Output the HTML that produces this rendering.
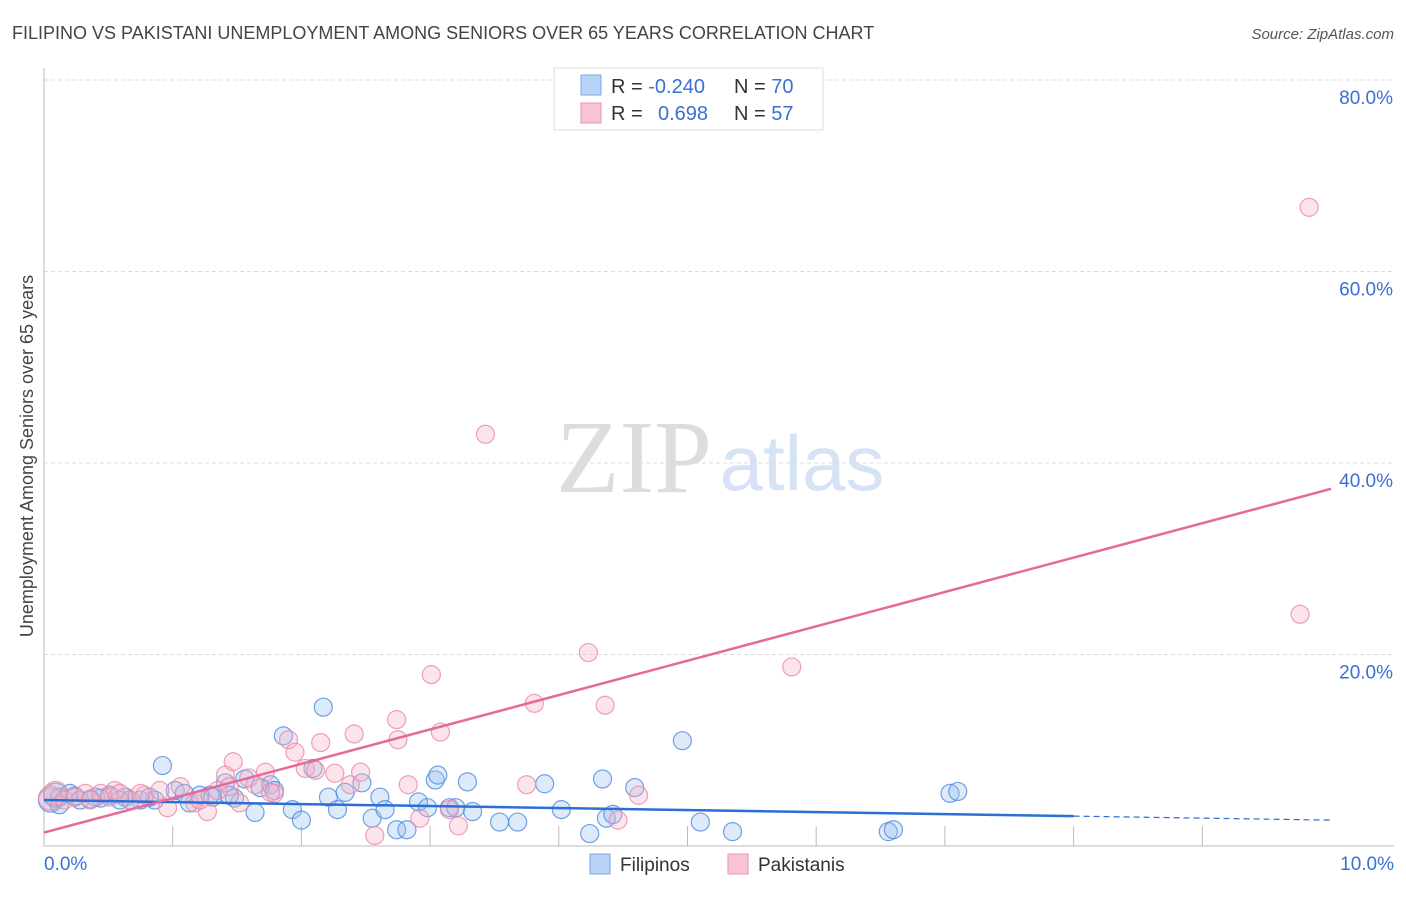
<!DOCTYPE html>
<html><head><meta charset="utf-8"><style>
body{margin:0;background:#fff;font-family:"Liberation Sans",sans-serif;}
</style></head><body>
<svg id="chart" width="1406" height="892" xmlns="http://www.w3.org/2000/svg" style="font-family:'Liberation Sans',sans-serif">
<text x="12" y="39" font-size="18" fill="#444">FILIPINO VS PAKISTANI UNEMPLOYMENT AMONG SENIORS OVER 65 YEARS CORRELATION CHART</text>
<text x="1394" y="39" font-size="15" fill="#555" text-anchor="end" font-style="italic">Source: ZipAtlas.com</text>
<g>
<text x="634" y="492" font-size="104" fill="#ddd" text-anchor="middle" font-family="Liberation Serif,serif">ZIP</text>
<text x="802" y="490" font-size="78" fill="#d6e3f5" text-anchor="middle">atlas</text>
</g>
<g id="grid"></g><g id="axes"></g><g id="pts"></g><g id="lines"></g>
<text transform="translate(33,456) rotate(-90)" font-size="18" fill="#444" text-anchor="middle">Unemployment Among Seniors over 65 years</text>
<g>
<rect x="554" y="68" width="269" height="62" fill="#fff" stroke="#ddd"/>
<rect x="581" y="75" width="20" height="20" fill="#b9d3f7" stroke="#7aa6e6"/>
<rect x="581" y="103" width="20" height="20" fill="#f9c4d3" stroke="#eb94ae"/>
<text x="611" y="93" font-size="20" fill="#333">R = <tspan fill="#3b6fd4">-0.240</tspan></text>
<text x="734" y="93" font-size="20" fill="#333">N = <tspan fill="#3b6fd4">70</tspan></text>
<text x="611" y="120" font-size="20" fill="#333">R = <tspan fill="#3b6fd4" x="658">0.698</tspan></text>
<text x="734" y="120" font-size="20" fill="#333">N = <tspan fill="#3b6fd4">57</tspan></text>
</g>
<g>
<rect x="590" y="854" width="20" height="20" fill="#b9d3f7" stroke="#7aa6e6"/>
<text x="620" y="871" font-size="19" fill="#333">Filipinos</text>
<rect x="728" y="854" width="20" height="20" fill="#f9c4d3" stroke="#eb94ae"/>
<text x="758" y="871" font-size="19" fill="#333">Pakistanis</text>
</g>
</svg>
<script>
const yTicks=[20,40,60,80];
const yTickLabels=["20.0%","40.0%","60.0%","80.0%"];
const xTickLabels=["0.0%","10.0%"];
const filX=[0.05,0.09,0.12,0.20,0.28,0.40,0.51,0.63,0.75,0.86,0.92,1.02,1.13,1.21,1.31,1.41,1.48,1.64,1.56,1.76,1.86,1.93,2.00,2.09,2.17,2.21,2.28,2.34,2.47,2.61,2.55,2.65,2.74,2.82,2.91,2.98,3.04,3.06,3.15,3.20,3.29,3.33,3.54,3.68,3.89,4.02,4.24,4.34,4.37,4.42,4.59,4.96,5.10,5.35,6.56,6.60,7.04,7.10,0.12,0.44,0.67,1.09,1.29,1.44,1.68,1.79,0.82,0.59,0.36,0.24];
const filY=[4.8,5.3,5.1,5.5,4.8,5.1,5.3,5.1,4.8,4.8,8.4,5.8,4.5,5.3,5.1,6.6,5.0,3.5,7.0,6.4,11.5,3.8,2.7,8.1,14.5,5.1,3.8,5.6,6.6,5.1,2.9,3.8,1.7,1.7,4.6,4.0,6.9,7.4,4.0,4.0,6.7,3.6,2.5,2.5,6.5,3.8,1.3,7.0,2.9,3.3,6.1,11.0,2.5,1.5,1.5,1.7,5.5,5.7,4.3,5.0,4.8,5.5,5.3,5.3,6.1,5.8,5.1,4.8,4.9,5.2];
const pakX=[0.05,0.09,0.16,0.24,0.32,0.44,0.55,0.67,0.78,0.90,0.96,1.06,1.17,1.27,1.35,1.41,1.47,1.52,1.59,1.72,1.79,1.90,1.95,2.03,2.11,2.15,2.26,2.38,2.41,2.46,2.57,2.74,2.75,2.83,2.92,3.01,3.08,3.15,3.22,3.43,3.75,3.81,4.23,4.36,4.46,4.62,5.81,9.76,9.83,0.36,0.51,0.75,1.21,1.64,1.44,0.59,1.76];
const pakY=[5.0,5.5,4.8,5.1,5.5,5.5,5.8,4.8,5.3,5.8,4.0,6.2,4.5,3.6,5.8,7.4,8.8,4.5,7.1,7.7,5.5,11.1,9.8,8.1,7.9,10.8,7.6,6.4,11.7,7.7,1.1,13.2,11.1,6.4,2.9,17.9,11.9,3.8,2.1,43.0,6.4,14.9,20.2,14.7,2.7,5.3,18.7,24.2,66.7,4.8,5.1,5.5,4.8,6.4,6.2,5.5,5.6];
const filFit=[4.8,2.7];
const pakFit=[1.4,37.3];
const X0=44,XS=128.7,Y0=846,YS=9.575;
const sx=v=>X0+v*XS, sy=v=>Y0-v*YS;
const NS="http://www.w3.org/2000/svg";
function mk(t,a,p){const e=document.createElementNS(NS,t);for(const k in a)e.setAttribute(k,a[k]);p.appendChild(e);return e;}
const grid=document.getElementById('grid'),axes=document.getElementById('axes'),pts=document.getElementById('pts'),lines=document.getElementById('lines');
yTicks.forEach((v,i)=>{
 const l=mk('line',{x1:X0,x2:1394,y1:sy(v),y2:sy(v),stroke:'#ddd','stroke-dasharray':'4,3'},grid);
 
 
 const t=mk('text',{x:1393,y:sy(v)+24,'font-size':19,fill:'#3b6fd4','text-anchor':'end'},grid);
 t.textContent=yTickLabels[i];
 
 
});
const ax=mk('path',{d:`M${X0},68 L${X0},${Y0} L1394,${Y0}`,stroke:'#bbb',fill:'none'},axes);


for(let i=1;i<10;i++){
 const t=mk('line',{x1:sx(i),x2:sx(i),y1:Y0-20,y2:Y0,stroke:'#bbb'},axes);
 
 
}
[[0,'start',X0],[1,'end',1394]].forEach(([i,a,x])=>{
 const t=mk('text',{x:x,y:870,'font-size':19,fill:'#3b6fd4','text-anchor':a},axes);
 t.textContent=xTickLabels[i];
 
 
});
function dots(X,Y,fill,stroke,name){
 X.forEach((x,i)=>{
  const r=(x<0.1)?12:9;
  const c=mk('circle',{cx:sx(x),cy:sy(Y[i]),r:r,fill:fill,'fill-opacity':0.35,stroke:stroke,'stroke-opacity':0.8,'stroke-width':1.2},pts);
  
  
 });
}
dots(filX,filY,'#9cc2f2','#4f8ae0','filipino-point');
dots(pakX,pakY,'#f7b3c6','#ea8aa8','pakistani-point');
const fy=x=>filFit[0]+(filFit[1]-filFit[0])*x/10;
const b1=mk('line',{x1:sx(0),y1:sy(fy(0)),x2:sx(8),y2:sy(fy(8)),stroke:'#2a6fd6','stroke-width':2.5},lines);


const b2=mk('line',{x1:sx(8),y1:sy(fy(8)),x2:sx(10),y2:sy(fy(10)),stroke:'#2a6fd6','stroke-width':1.2,'stroke-dasharray':'6,4'},lines);


const p1=mk('line',{x1:sx(0),y1:sy(pakFit[0]),x2:sx(10),y2:sy(pakFit[1]),stroke:'#e5699a','stroke-width':2.5},lines);


</script>
</body></html>
